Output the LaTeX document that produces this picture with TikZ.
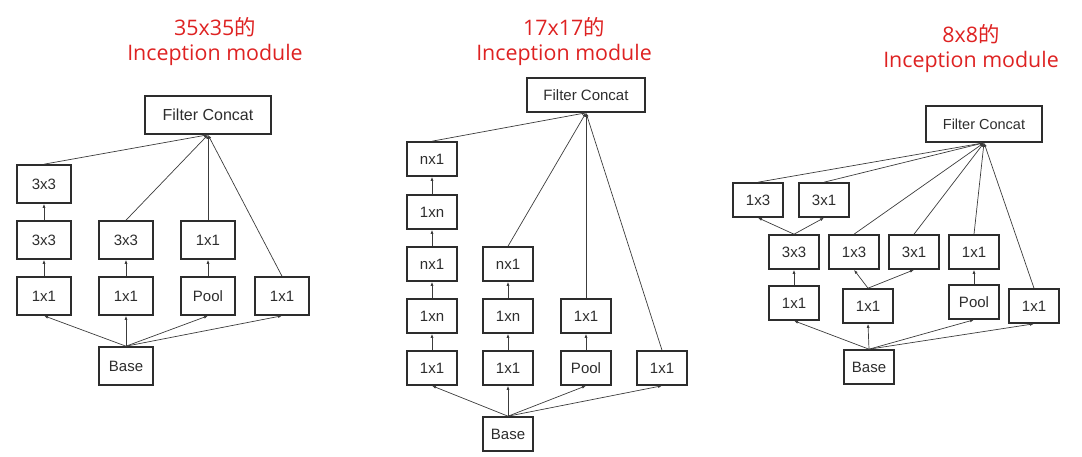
\documentclass[tikz,border=0pt]{standalone}
\usepackage{fontspec}
\setmainfont{Liberation Sans}
\newfontfamily\cjkfont{Noto Sans CJK SC}
\newfontfamily\ttlfont{Open Sans}
\usetikzlibrary{arrows.meta}
\definecolor{boxline}{RGB}{45,45,45}
\definecolor{connc}{RGB}{60,60,60}
\definecolor{titlered}{RGB}{222,34,34}
\tikzset{
  blk/.style n args={2}{draw=boxline, line width=1.6pt, inner sep=0pt, text=boxline,
    minimum width=#1, minimum height=#2, font=\fontsize{15}{17}\selectfont},
  blkA/.style={blk={54pt}{38pt}},
  blkB/.style={blk={50pt}{34pt}},
  blkC/.style={blk={50pt}{34pt}},
  fcA/.style={blk={126pt}{38pt}, font=\fontsize{16}{18}\selectfont},
  fcB/.style={blk={118pt}{34pt}, font=\fontsize{15}{17}\selectfont},
  fcC/.style={blk={116pt}{36pt}, font=\fontsize{14.5}{17}\selectfont},
  ttl/.style={text=titlered, align=center, inner sep=0pt, font=\ttlfont\fontsize{21.4}{25}\selectfont},
  conn/.style={draw=connc, line width=0.7pt, -{Latex[length=4pt,width=3pt]}}
}
\begin{document}
\begin{tikzpicture}[x=1pt,y=-1pt]
\useasboundingbox (0,0) rectangle (1082,457);
% ---------- Panel 1 ----------
\node[ttl] (t1) at (215,41.5) {35x35{\cjkfont 的}\\Inception module};
\node[fcA] (afc) at (208,115) {Filter Concat};
\node[blkA] (a33b) at (44,184) {3x3};
\node[blkA] (a33a) at (44,240) {3x3};
\node[blkA] (a11a) at (44,296) {1x1};
\node[blkA] (a33c) at (126,240) {3x3};
\node[blkA] (a11b) at (126,296) {1x1};
\node[blkA] (a11c) at (208,240) {1x1};
\node[blkA] (apool) at (208,296) {Pool};
\node[blkA] (a11d) at (282,296) {1x1};
\node[blkA] (abase) at (126,366) {Base};
\draw[conn] (a11a) -- (a33a);
\draw[conn] (a33a) -- (a33b);
\draw[conn] (a11b) -- (a33c);
\draw[conn] (apool) -- (a11c);
\foreach \n in {a11a,a11b,apool,a11d}
  \draw[conn] (abase.north) -- (\n.south);
\foreach \n in {a33b,a33c,a11c,a11d}
  \draw[conn] (\n.north) -- (afc.south);
% ---------- Panel 2 ----------
\node[ttl] (t2) at (564,41.5) {17x17{\cjkfont 的}\\Inception module};
\node[fcB] (bfc) at (586,95) {Filter Concat};
\node[blkB] (b1a) at (432,159) {nx1};
\node[blkB] (b1b) at (432,212) {1xn};
\node[blkB] (b1c) at (432,264) {nx1};
\node[blkB] (b1d) at (432,316) {1xn};
\node[blkB] (b1e) at (432,368) {1x1};
\node[blkB] (b2a) at (508,264) {nx1};
\node[blkB] (b2b) at (508,316) {1xn};
\node[blkB] (b2c) at (508,368) {1x1};
\node[blkB] (b3a) at (586,316) {1x1};
\node[blkB] (b3b) at (586,368) {Pool};
\node[blkB] (b4a) at (662,368) {1x1};
\node[blkB] (bbase) at (508,434) {Base};
\draw[conn] (b1e) -- (b1d);
\draw[conn] (b1d) -- (b1c);
\draw[conn] (b1c) -- (b1b);
\draw[conn] (b1b) -- (b1a);
\draw[conn] (b2c) -- (b2b);
\draw[conn] (b2b) -- (b2a);
\draw[conn] (b3b) -- (b3a);
\foreach \n in {b1e,b2c,b3b,b4a}
  \draw[conn] (bbase.north) -- (\n.south);
\foreach \n in {b1a,b2a,b3a,b4a}
  \draw[conn] (\n.north) -- (bfc.south);
% ---------- Panel 3 ----------
\node[ttl] (t3) at (971,48.5) {8x8{\cjkfont 的}\\Inception module};
\node[fcC] (cfc) at (984,124) {Filter Concat};
\node[blkC] (c13t) at (758,200) {1x3};
\node[blkC] (c31t) at (824,200) {3x1};
\node[blkC] (c33) at (794,252) {3x3};
\node[blkC] (c13) at (854,252) {1x3};
\node[blkC] (c31) at (914,252) {3x1};
\node[blkC] (c11p) at (974,252) {1x1};
\node[blkC] (c11a) at (794,303) {1x1};
\node[blkC] (c11b) at (868,306) {1x1};
\node[blkC] (cpool) at (974,302) {Pool};
\node[blkC] (c11d) at (1034,306) {1x1};
\node[blkC] (cbase) at (869,367) {Base};
\draw[conn] (c11a) -- (c33);
\draw[conn] (cpool) -- (c11p);
\draw[conn] (c33.north) -- (c13t.south);
\draw[conn] (c33.north) -- (c31t.south);
\draw[conn] (c11b.north) -- (c13.south);
\draw[conn] (c11b.north) -- (c31.south);
\foreach \n in {c11a,c11b,cpool,c11d}
  \draw[conn] (cbase.north) -- (\n.south);
\foreach \n in {c13t,c31t,c13,c31,c11p,c11d}
  \draw[conn] (\n.north) -- (cfc.south);
\end{tikzpicture}
\end{document}
